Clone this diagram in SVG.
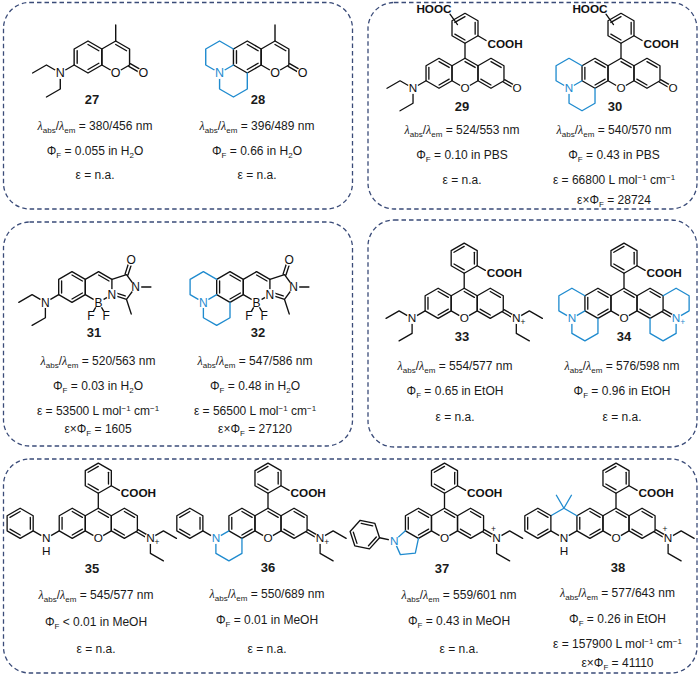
<svg xmlns="http://www.w3.org/2000/svg" width="700" height="677" viewBox="0 0 700 677">
<style>
.box{fill:none;stroke:#3a4b78;stroke-width:1.3;stroke-dasharray:4.5 3}
.m{fill:none;stroke:#111;stroke-width:1.4;stroke-linecap:round;stroke-linejoin:round}
.b{stroke:#1f8bcf}
.a{font-family:"Liberation Sans",Arial,sans-serif;font-size:12.5px;fill:#111;stroke:none;text-anchor:middle}
.ab{fill:#1f8bcf}
.k{text-anchor:start;font-weight:bold}
.ke{text-anchor:end;font-weight:bold}
.pl{font-size:9px}
.bg{fill:#fff;stroke:none}
.t{font-family:"Liberation Sans",Arial,sans-serif;font-size:12px;fill:#1a1a1a;text-anchor:middle}
.lb{font-weight:bold;font-size:13px}
.s{font-size:8px}
.l{font-family:"Liberation Serif",serif;font-style:italic}
</style>
<defs>
<path id="hx" d="M0,-16L13.86,-8L13.86,8L0,16L-13.86,8L-13.86,-8Z"/>
<path id="e0" d="M0,-12.5L10.83,-6.25"/>
<path id="e1" d="M10.83,-6.25V6.25"/>
<path id="e2" d="M10.83,6.25L0,12.5"/>
<path id="e3" d="M0,12.5L-10.83,6.25"/>
<path id="e4" d="M-10.83,6.25V-6.25"/>
<path id="e5" d="M-10.83,-6.25L0,-12.5"/>
<g id="xan">
<use href="#hx" x="-27.71"/><use href="#hx"/><use href="#hx" x="27.71"/><use href="#hx" y="-48"/>
<path d="M0,-16V-32M13.86,-40L22.5,-35"/>
<use href="#e4" x="-27.71"/><use href="#e0" x="-27.71"/><use href="#e2" x="-27.71"/>
<use href="#e0"/>
<use href="#e0" x="27.71"/><use href="#e3" x="27.71"/>
<use href="#e5" y="-48"/><use href="#e1" y="-48"/><use href="#e3" y="-48"/>
<circle class="bg" cy="16" r="6"/>
<text class="a" y="20.4">O</text>
<text class="a k" x="24" y="-27.5">COOH</text>
</g>
<g id="nl">
<path d="M-41.57,8L-55.43,16L-69.28,8L-83.14,16M-55.43,16V32L-69.28,40"/>
<circle class="bg" cx="-55.43" cy="16" r="6"/>
<text class="a" x="-55.43" y="20.4">N</text>
</g>
<g id="nr">
<path d="M40.82,9.3L54.68,17.3M42.32,6.7L56.18,14.7M55.43,16L69.28,8L83.14,16M55.43,16V32L69.28,40"/>
<circle class="bg" cx="55.43" cy="16" r="6"/>
<text class="a" x="55.43" y="20.4">N</text>
</g>
<g id="jl">
<path class="b" d="M-41.57,-8L-55.43,-16L-69.28,-8V8L-55.43,16V32L-41.57,40L-27.71,32V16M-55.43,16L-41.57,8"/>
<circle class="bg" cx="-55.43" cy="16" r="6"/>
<text class="a ab" x="-55.43" y="20.4">N</text>
</g>
</defs>
<rect width="700" height="677" fill="#fff"/>
<g id="boxes">
<rect class="box" x="3.5" y="2.5" width="349" height="206.5" rx="26"/>
<rect class="box" x="368" y="2.5" width="329" height="206.5" rx="26"/>
<rect class="box" x="3.5" y="222" width="349" height="224" rx="26"/>
<rect class="box" x="368" y="220" width="329" height="227" rx="26"/>
<rect class="box" x="3.5" y="459" width="693.5" height="214" rx="26"/>
</g>
<g id="connectors"/>

<g id="c27">
<g class="m" transform="translate(88,57)">
<use href="#hx"/><use href="#hx" x="27.71"/>
<use href="#e4"/><use href="#e0"/><use href="#e2"/><use href="#e0" x="27.71"/>
<path d="M27.71,-16V-32M40.82,9.3L54.68,17.3M42.32,6.7L56.18,14.7"/>
<use href="#nl" x="27.71"/>
<circle class="bg" cx="27.71" cy="16" r="6"/><text class="a" x="27.71" y="20.4">O</text>
<circle class="bg" cx="55.43" cy="16" r="6"/><text class="a" x="55.43" y="20.4">O</text>
</g>
<text class="t lb" x="92" y="103.6">27</text>
<text class="t" x="95" y="130.3"><tspan class="l">λ</tspan><tspan class="s" dy="3">abs</tspan><tspan dy="-3">/</tspan><tspan class="l">λ</tspan><tspan class="s" dy="3">em</tspan><tspan dy="-3"> = 380/456 nm</tspan></text>
<text class="t" x="95" y="154.5">Φ<tspan class="s" dy="3">F</tspan><tspan dy="-3"> = 0.055 in H</tspan><tspan class="s" dy="3">2</tspan><tspan dy="-3">O</tspan></text>
<text class="t" x="95" y="179">ε = n.a.</text>
</g>

<g id="c28">
<g class="m" transform="translate(247.3,57)">
<use href="#hx"/><use href="#hx" x="27.71"/>
<use href="#e4"/><use href="#e0"/><use href="#e2"/><use href="#e0" x="27.71"/>
<path d="M27.71,-16V-32M40.82,9.3L54.68,17.3M42.32,6.7L56.18,14.7"/>
<use href="#jl" x="27.71"/>
<circle class="bg" cx="27.71" cy="16" r="6"/><text class="a" x="27.71" y="20.4">O</text>
<circle class="bg" cx="55.43" cy="16" r="6"/><text class="a" x="55.43" y="20.4">O</text>
</g>
<text class="t lb" x="258" y="103.6">28</text>
<text class="t" x="257" y="130.3"><tspan class="l">λ</tspan><tspan class="s" dy="3">abs</tspan><tspan dy="-3">/</tspan><tspan class="l">λ</tspan><tspan class="s" dy="3">em</tspan><tspan dy="-3"> = 396/489 nm</tspan></text>
<text class="t" x="257" y="154.5">Φ<tspan class="s" dy="3">F</tspan><tspan dy="-3"> = 0.66 in H</tspan><tspan class="s" dy="3">2</tspan><tspan dy="-3">O</tspan></text>
<text class="t" x="257" y="179">ε = n.a.</text>
</g>

<g id="c29">
<g class="m" transform="translate(465,73.3) scale(0.9375)">
<use href="#xan"/>
<path d="M40.82,9.3L54.68,17.3M42.32,6.7L56.18,14.7M-16,-63L-8,-52"/>
<use href="#nl"/>
<circle class="bg" cx="55.43" cy="16" r="6"/><text class="a" x="55.43" y="20.4">O</text>
<text class="a ke" x="-14.4" y="-64.5">HOOC</text>
</g>
<text class="t lb" x="462" y="111">29</text>
<text class="t" x="462" y="133.6"><tspan class="l">λ</tspan><tspan class="s" dy="3">abs</tspan><tspan dy="-3">/</tspan><tspan class="l">λ</tspan><tspan class="s" dy="3">em</tspan><tspan dy="-3"> = 524/553 nm</tspan></text>
<text class="t" x="462" y="159.3">Φ<tspan class="s" dy="3">F</tspan><tspan dy="-3"> = 0.10 in PBS</tspan></text>
<text class="t" x="462" y="184.3">ε = n.a.</text>
</g>

<g id="c30">
<g class="m" transform="translate(621,73.3) scale(0.9375)">
<use href="#xan"/>
<path d="M40.82,9.3L54.68,17.3M42.32,6.7L56.18,14.7M-16,-63L-8,-52"/>
<use href="#jl"/>
<circle class="bg" cx="55.43" cy="16" r="6"/><text class="a" x="55.43" y="20.4">O</text>
<text class="a ke" x="-14.4" y="-64.5">HOOC</text>
</g>
<text class="t lb" x="615" y="111">30</text>
<text class="t" x="614" y="133.6"><tspan class="l">λ</tspan><tspan class="s" dy="3">abs</tspan><tspan dy="-3">/</tspan><tspan class="l">λ</tspan><tspan class="s" dy="3">em</tspan><tspan dy="-3"> = 540/570 nm</tspan></text>
<text class="t" x="614" y="159.3">Φ<tspan class="s" dy="3">F</tspan><tspan dy="-3"> = 0.43 in PBS</tspan></text>
<text class="t" x="614" y="184.3">ε = 66800 L mol<tspan class="s" dy="-4">−1</tspan><tspan dy="4"> cm</tspan><tspan class="s" dy="-4">−1</tspan></text>
<text class="t" x="614" y="204.3">ε×Φ<tspan class="s" dy="3">F</tspan><tspan dy="-3"> = 28724</tspan></text>
</g>

<g id="c31">
<g class="m" transform="translate(72,287) scale(0.96)">
<use href="#hx"/><use href="#hx" x="27.71"/>
<use href="#e4"/><use href="#e0"/><use href="#e2"/><use href="#e0" x="27.71"/>
<path d="M41.57,-8L56.79,-12.94L66.19,0L56.79,12.94L41.57,8M44.78,5.89L55.44,9.35M55.27,-13.43L60.21,-28.65M58.31,-12.45L63.25,-27.67M66.19,0H82.19M56.79,12.94L61.73,28.16M27.71,16L19.71,29.86M27.71,16L35.71,29.86"/>
<use href="#nl" x="27.71"/>
<circle class="bg" cx="41.57" cy="8" r="6"/><text class="a" x="41.57" y="12.4">N</text>
<circle class="bg" cx="66.19" cy="0" r="6"/><text class="a" x="66.19" y="4.4">N</text>
<circle class="bg" cx="27.71" cy="16" r="6"/><text class="a" x="27.71" y="20.4">B</text>
<circle class="bg" cx="19.71" cy="29.86" r="5.5"/><text class="a" x="19.71" y="34.26">F</text>
<circle class="bg" cx="35.71" cy="29.86" r="5.5"/><text class="a" x="35.71" y="34.26">F</text>
<circle class="bg" cx="61.73" cy="-28.16" r="6"/><text class="a" x="61.73" y="-23.76">O</text>
</g>
<text class="t lb" x="94" y="336.5">31</text>
<text class="t" x="98" y="364.5"><tspan class="l">λ</tspan><tspan class="s" dy="3">abs</tspan><tspan dy="-3">/</tspan><tspan class="l">λ</tspan><tspan class="s" dy="3">em</tspan><tspan dy="-3"> = 520/563 nm</tspan></text>
<text class="t" x="98" y="390">Φ<tspan class="s" dy="3">F</tspan><tspan dy="-3"> = 0.03 in H</tspan><tspan class="s" dy="3">2</tspan><tspan dy="-3">O</tspan></text>
<text class="t" x="98" y="415">ε = 53500 L mol<tspan class="s" dy="-4">−1</tspan><tspan dy="4"> cm</tspan><tspan class="s" dy="-4">−1</tspan></text>
<text class="t" x="98" y="432.5">ε×Φ<tspan class="s" dy="3">F</tspan><tspan dy="-3"> = 1605</tspan></text>
</g>

<g id="c32">
<g class="m" transform="translate(230,287) scale(0.96)">
<use href="#hx"/><use href="#hx" x="27.71"/>
<use href="#e4"/><use href="#e0"/><use href="#e2"/><use href="#e0" x="27.71"/>
<path d="M41.57,-8L56.79,-12.94L66.19,0L56.79,12.94L41.57,8M44.78,5.89L55.44,9.35M55.27,-13.43L60.21,-28.65M58.31,-12.45L63.25,-27.67M66.19,0H82.19M56.79,12.94L61.73,28.16M27.71,16L19.71,29.86M27.71,16L35.71,29.86"/>
<use href="#jl" x="27.71"/>
<circle class="bg" cx="41.57" cy="8" r="6"/><text class="a" x="41.57" y="12.4">N</text>
<circle class="bg" cx="66.19" cy="0" r="6"/><text class="a" x="66.19" y="4.4">N</text>
<circle class="bg" cx="27.71" cy="16" r="6"/><text class="a" x="27.71" y="20.4">B</text>
<circle class="bg" cx="19.71" cy="29.86" r="5.5"/><text class="a" x="19.71" y="34.26">F</text>
<circle class="bg" cx="35.71" cy="29.86" r="5.5"/><text class="a" x="35.71" y="34.26">F</text>
<circle class="bg" cx="61.73" cy="-28.16" r="6"/><text class="a" x="61.73" y="-23.76">O</text>
</g>
<text class="t lb" x="258" y="336.5">32</text>
<text class="t" x="255" y="364.5"><tspan class="l">λ</tspan><tspan class="s" dy="3">abs</tspan><tspan dy="-3">/</tspan><tspan class="l">λ</tspan><tspan class="s" dy="3">em</tspan><tspan dy="-3"> = 547/586 nm</tspan></text>
<text class="t" x="255" y="390">Φ<tspan class="s" dy="3">F</tspan><tspan dy="-3"> = 0.48 in H</tspan><tspan class="s" dy="3">2</tspan><tspan dy="-3">O</tspan></text>
<text class="t" x="255" y="415">ε = 56500 L mol<tspan class="s" dy="-4">−1</tspan><tspan dy="4"> cm</tspan><tspan class="s" dy="-4">−1</tspan></text>
<text class="t" x="255" y="432.5">ε×Φ<tspan class="s" dy="3">F</tspan><tspan dy="-3"> = 27120</tspan></text>
</g>

<g id="c33">
<g class="m" transform="translate(464.2,303.3) scale(0.94)">
<use href="#xan"/><use href="#nl"/><use href="#nr"/>
<text class="a pl" x="62.5" y="23.5">+</text>
</g>
<text class="t lb" x="462" y="341.3">33</text>
<text class="t" x="455" y="370"><tspan class="l">λ</tspan><tspan class="s" dy="3">abs</tspan><tspan dy="-3">/</tspan><tspan class="l">λ</tspan><tspan class="s" dy="3">em</tspan><tspan dy="-3"> = 554/577 nm</tspan></text>
<text class="t" x="455" y="395">Φ<tspan class="s" dy="3">F</tspan><tspan dy="-3"> = 0.65 in EtOH</tspan></text>
<text class="t" x="455" y="421">ε = n.a.</text>
</g>

<g id="c34">
<g class="m" transform="translate(624,303.3) scale(0.94)">
<use href="#xan"/><use href="#jl"/>
<path class="b" d="M41.57,-8L55.43,-16L69.28,-8V8L55.43,16V32L41.57,40L27.71,32V16"/>
<path d="M40.82,9.3L54.68,17.3M42.32,6.7L56.18,14.7"/>
<circle class="bg" cx="55.43" cy="16" r="6"/><text class="a ab" x="55.43" y="20.4">N</text>
<text class="a ab pl" x="62.5" y="23.5">+</text>
</g>
<text class="t lb" x="624" y="341.3">34</text>
<text class="t" x="622" y="370"><tspan class="l">λ</tspan><tspan class="s" dy="3">abs</tspan><tspan dy="-3">/</tspan><tspan class="l">λ</tspan><tspan class="s" dy="3">em</tspan><tspan dy="-3"> = 576/598 nm</tspan></text>
<text class="t" x="622" y="395">Φ<tspan class="s" dy="3">F</tspan><tspan dy="-3"> = 0.96 in EtOH</tspan></text>
<text class="t" x="622" y="421">ε = n.a.</text>
</g>

<g id="c35">
<g class="m" transform="translate(98.3,523.3) scale(0.94)">
<use href="#xan"/><use href="#nr"/>
<path d="M-41.57,8L-55.43,16L-69.28,8"/>
<use href="#hx" x="-83.14"/><use href="#e5" x="-83.14"/><use href="#e1" x="-83.14"/><use href="#e3" x="-83.14"/>
<circle class="bg" cx="-55.43" cy="16" r="6"/><text class="a" x="-55.43" y="20.4">N</text>
<text class="a" x="-55.43" y="33.6">H</text>
<text class="a pl" x="62.5" y="23.5">+</text>
</g>
<text class="t lb" x="92" y="573">35</text>
<text class="t" x="96" y="599.3"><tspan class="l">λ</tspan><tspan class="s" dy="3">abs</tspan><tspan dy="-3">/</tspan><tspan class="l">λ</tspan><tspan class="s" dy="3">em</tspan><tspan dy="-3"> = 545/577 nm</tspan></text>
<text class="t" x="96" y="626">Φ<tspan class="s" dy="3">F</tspan><tspan dy="-3"> &lt; 0.01 in MeOH</tspan></text>
<text class="t" x="96" y="653.3">ε = n.a.</text>
</g>

<g id="c36">
<g class="m" transform="translate(268,523.3) scale(0.94)">
<use href="#xan"/><use href="#nr"/>
<path class="b" d="M-41.57,8L-55.43,16V32L-41.57,40L-27.71,32V16"/>
<path d="M-55.43,16L-69.28,8"/>
<use href="#hx" x="-83.14"/><use href="#e5" x="-83.14"/><use href="#e1" x="-83.14"/><use href="#e3" x="-83.14"/>
<circle class="bg" cx="-55.43" cy="16" r="6"/><text class="a ab" x="-55.43" y="20.4">N</text>
<text class="a pl" x="62.5" y="23.5">+</text>
</g>
<text class="t lb" x="268" y="571.5">36</text>
<text class="t" x="267" y="597.6"><tspan class="l">λ</tspan><tspan class="s" dy="3">abs</tspan><tspan dy="-3">/</tspan><tspan class="l">λ</tspan><tspan class="s" dy="3">em</tspan><tspan dy="-3"> = 550/689 nm</tspan></text>
<text class="t" x="267" y="624.3">Φ<tspan class="s" dy="3">F</tspan><tspan dy="-3"> = 0.01 in MeOH</tspan></text>
<text class="t" x="267" y="652.6">ε = n.a.</text>
</g>

<g id="c37">
<g class="m" transform="translate(444.5,523.3) scale(0.94)">
<use href="#xan"/><use href="#nr"/>
<path class="b" d="M-41.57,8L-53.45,18.7L-46.94,33.32L-31.03,31.64L-27.71,16"/>
<path d="M-53.45,18.7L-69.1,15.37"/>
<g transform="translate(-84.75,12.04) rotate(-18)"><use href="#hx"/><use href="#e0"/><use href="#e2"/><use href="#e4"/></g>
<circle class="bg" cx="-53.45" cy="18.7" r="6"/><text class="a ab" x="-53.45" y="23.1">N</text>
<text class="a pl" x="52" y="9.5">+</text>
</g>
<text class="t lb" x="442" y="573">37</text>
<text class="t" x="459" y="599.3"><tspan class="l">λ</tspan><tspan class="s" dy="3">abs</tspan><tspan dy="-3">/</tspan><tspan class="l">λ</tspan><tspan class="s" dy="3">em</tspan><tspan dy="-3"> = 559/601 nm</tspan></text>
<text class="t" x="459" y="625.3">Φ<tspan class="s" dy="3">F</tspan><tspan dy="-3"> = 0.43 in MeOH</tspan></text>
<text class="t" x="459" y="653.3">ε = n.a.</text>
</g>

<g id="c38">
<g class="m" transform="translate(616,523.3) scale(0.94)">
<use href="#xan"/><use href="#nr"/>
<path class="b" d="M-41.57,-8L-55.43,-16L-69.28,-8M-55.43,-16L-63.43,-29.86M-55.43,-16L-47.43,-29.86"/>
<path d="M-69.28,8L-55.43,16L-41.57,8"/>
<use href="#hx" x="-83.14"/><use href="#e0" x="-83.14"/><use href="#e2" x="-83.14"/><use href="#e4" x="-83.14"/>
<circle class="bg" cx="-55.43" cy="16" r="6"/><text class="a" x="-55.43" y="20.4">N</text>
<text class="a" x="-55.43" y="33.6">H</text>
<text class="a pl" x="52" y="9.5">+</text>
</g>
<text class="t lb" x="618" y="571.5">38</text>
<text class="t" x="617.5" y="596.6"><tspan class="l">λ</tspan><tspan class="s" dy="3">abs</tspan><tspan dy="-3">/</tspan><tspan class="l">λ</tspan><tspan class="s" dy="3">em</tspan><tspan dy="-3"> = 577/643 nm</tspan></text>
<text class="t" x="617.5" y="622.6">Φ<tspan class="s" dy="3">F</tspan><tspan dy="-3"> = 0.26 in EtOH</tspan></text>
<text class="t" x="617.5" y="647.6">ε = 157900 L mol<tspan class="s" dy="-4">−1</tspan><tspan dy="4"> cm</tspan><tspan class="s" dy="-4">−1</tspan></text>
<text class="t" x="617.5" y="666.6">ε×Φ<tspan class="s" dy="3">F</tspan><tspan dy="-3"> = 41110</tspan></text>
</g>
</svg>
